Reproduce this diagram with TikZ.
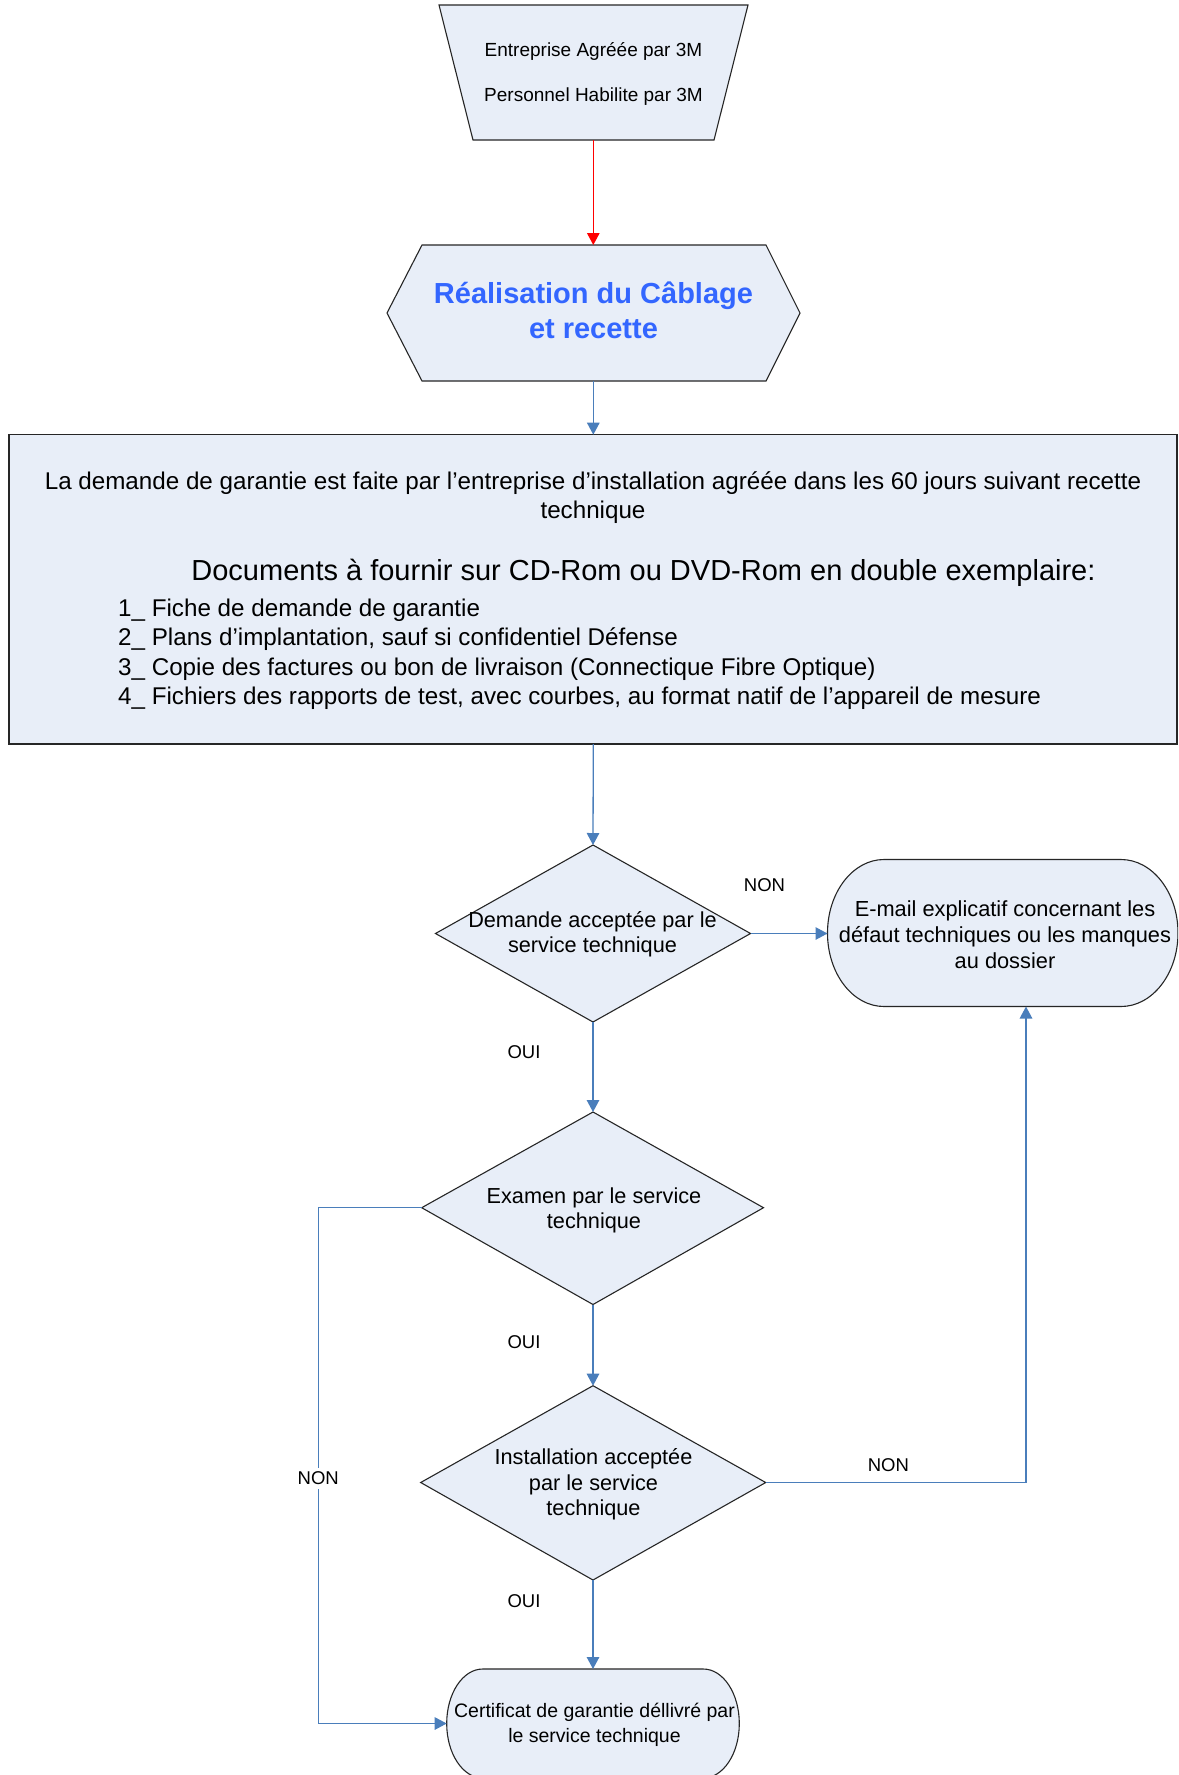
\documentclass[tikz,border=0pt]{standalone}
\usepackage{fontspec}
\setmainfont{Liberation Sans}
\usetikzlibrary{arrows.meta}
\definecolor{shapefill}{RGB}{232,238,248}
\definecolor{connblue}{RGB}{74,126,187}
\definecolor{titleblue}{RGB}{51,102,255}
\begin{document}
\begin{tikzpicture}[x=1pt,y=-1pt,
  outline/.style={draw=black!85, line width=1.1pt, fill=shapefill, line join=miter},
  conn/.style={draw=connblue, line width=1.3pt, -{Triangle[length=12pt,width=12.5pt]}},
  redconn/.style={draw=red, line width=1.3pt, -{Triangle[length=12pt,width=12.5pt]}},
  txt/.style={inner sep=0pt, align=center},
  lbl/.style={inner sep=2pt, font=\fontsize{18.5}{22}\selectfont}]
\fill[white] (0,0) rectangle (1178,1775);
\clip (0,0) rectangle (1178,1775);

% ---- anchor coordinates
\coordinate (trapB) at (593.3,140);
\coordinate (hexT) at (593.3,245);
\coordinate (hexB) at (593.3,381);
\coordinate (boxT) at (593.3,434.7);
\coordinate (boxB) at (593.3,744);
\coordinate (d1T) at (593,845);
\coordinate (d1R) at (750.5,933.5);
\coordinate (d1B) at (593,1022);
\coordinate (d1L) at (435.5,933.5);
\coordinate (emL) at (827.5,933.5);
\coordinate (emB) at (1026,1006.5);
\coordinate (d2T) at (593,1112);
\coordinate (d2R) at (763.5,1207.7);
\coordinate (d2B) at (593,1304.5);
\coordinate (d2L) at (421.7,1207.7);
\coordinate (d3T) at (593,1385.7);
\coordinate (d3R) at (765.7,1482.5);
\coordinate (d3B) at (593,1580);
\coordinate (d3L) at (420.7,1482.5);
\coordinate (certT) at (593,1669);
\coordinate (certL) at (446.7,1723.5);
\coordinate (lbend) at (318.5,1207.7);

% ---- shapes
\draw[outline] (439,5) -- (748,5) -- (714,140) -- (473,140) -- cycle;
\draw[outline] (422,245) -- (766,245) -- (800,313) -- (766,381) -- (422,381) -- (387,313) -- cycle;
\draw[outline] (9,434.7) rectangle (1177,744);
\draw[outline] (d1T) -- (d1R) -- (d1B) -- (d1L) -- cycle;
\draw[outline] (d2T) -- (d2R) -- (d2B) -- (d2L) -- cycle;
\draw[outline] (d3T) -- (d3R) -- (d3B) -- (d3L) -- cycle;
\draw[outline] (884,859.5) arc[start angle=-90, end angle=-270, x radius=56.5, y radius=73.5]
  -- (1121,1006.5) arc[start angle=90, end angle=-90, x radius=57, y radius=73.5] -- cycle;
\draw[outline] (482.7,1669) arc[start angle=-90, end angle=-270, x radius=36, y radius=54.5]
  -- (703.3,1778) arc[start angle=90, end angle=-90, x radius=36, y radius=54.5] -- cycle;

% ---- texts
\node[txt, font=\fontsize{19}{45.6}\selectfont] (trap) at (593.5,74)
  {Entreprise Agréée par 3M\\Personnel Habilite par 3M};
\node[txt, font=\fontsize{29}{35}\selectfont\bfseries, text=titleblue] (hex) at (593.5,310.5)
  {Réalisation du Câblage\\et recette};
\node[txt, font=\fontsize{24.2}{29.5}\selectfont] (boxline) at (593,497.5)
  {La demande de garantie est faite par l’entreprise d’installation agréée dans les 60 jours suivant recette\\technique};
\node[txt, font=\fontsize{29}{35}\selectfont] (boxhead) at (643.5,573.2)
  {Documents à fournir sur CD-Rom ou DVD-Rom en double exemplaire:};
\node[inner sep=0pt, align=left, anchor=west, font=\fontsize{24.2}{29.5}\selectfont] (boxitems) at (118,654)
  {1\_ Fiche de demande de garantie\\
   2\_ Plans d’implantation, sauf si confidentiel Défense\\
   3\_ Copie des factures ou bon de livraison (Connectique Fibre Optique)\\
   4\_ Fichiers des rapports de test, avec courbes, au format natif de l’appareil de mesure};
\node[txt, font=\fontsize{21.7}{25.5}\selectfont] (d1) at (592.5,934.5)
  {Demande acceptée par le\\service technique};
\node[txt, font=\fontsize{21.8}{26}\selectfont] (email) at (1005,934.5)
  {E-mail explicatif concernant les\\défaut techniques ou les manques\\au dossier};
\node[txt, font=\fontsize{21.7}{25.5}\selectfont] (d2) at (594,1210.5)
  {Examen par le service\\technique};
\node[txt, font=\fontsize{21.7}{25.7}\selectfont] (d3) at (593.5,1484.4)
  {Installation acceptée\\par le service\\technique};
\node[txt, font=\fontsize{19.5}{25}\selectfont] (cert) at (594.5,1724.5)
  {Certificat de garantie déllivré par\\le service technique};

% ---- connectors
\draw[redconn] (trapB) -- (hexT);
\draw[conn] (hexB) -- (boxT);
\draw[conn] (boxB) -- (d1T);
\draw[conn] (d1R) -- (emL);
\draw[conn] (d1B) -- (d2T);
\draw[conn] (d2B) -- (d3T);
\draw[conn] (d3B) -- (certT);
\draw[conn] (d2L) -- (lbend) |- (certL);
\draw[conn] (d3R) -| (emB);

% ---- labels
\node[lbl] (non1) at (764.5,885) {NON};
\node[lbl] (oui1) at (524,1052.5) {OUI};
\node[lbl] (oui2) at (524,1341.7) {OUI};
\node[lbl] (oui3) at (524,1601.3) {OUI};
\node[lbl, fill=white, inner ysep=4pt] (non2) at (318.3,1478.3) {NON};
\node[lbl] (non3) at (888.3,1465) {NON};
\end{tikzpicture}
\end{document}
